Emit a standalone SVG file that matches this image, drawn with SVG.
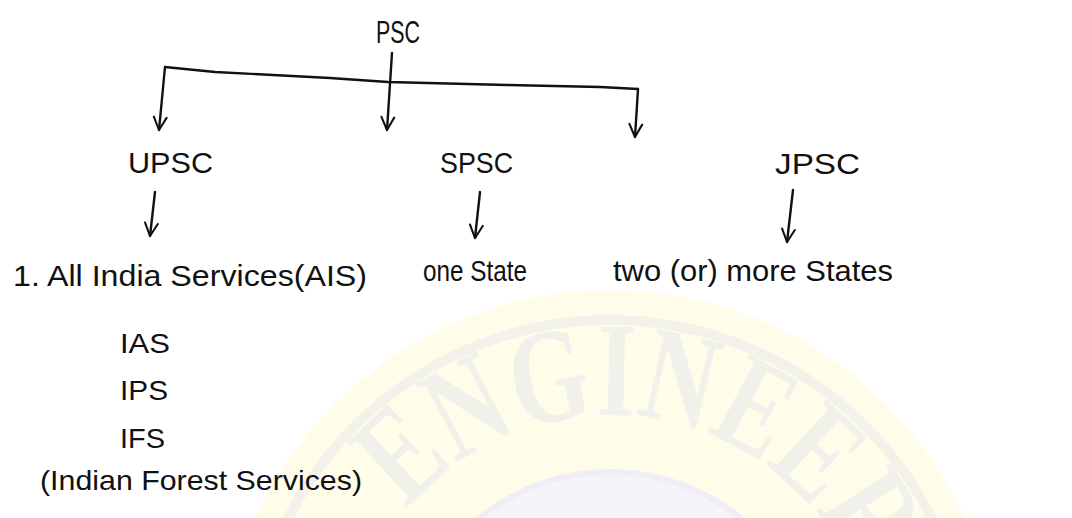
<svg xmlns="http://www.w3.org/2000/svg" width="1072" height="518" viewBox="0 0 1072 518">
<style>
.t{font-family:"Liberation Sans","DejaVu Sans",sans-serif;fill:#111;}
.c{fill:none;stroke:#111;stroke-width:2.4;stroke-linecap:round;stroke-linejoin:round;}
.wm{font-family:"Liberation Serif","DejaVu Serif",serif;font-weight:bold;}
</style>
<defs>
<marker id="v" viewBox="0 0 20 20" refX="18" refY="10" markerWidth="16" markerHeight="16" markerUnits="userSpaceOnUse" orient="auto">
<path d="M2,2 L18,10 L2,18" fill="none" stroke="#111" stroke-width="2.6" stroke-linecap="round" stroke-linejoin="round"/>
</marker>
<path id="arcOuter" d="M407,510 A265,265 0 0 1 859,771"/>
</defs>
<rect width="1072" height="518" fill="#ffffff"/>
<g id="watermark">
<circle cx="610" cy="680" r="390" fill="#fffdea"/>
<circle cx="610" cy="680" r="360" fill="none" stroke="#f2f2ea" stroke-width="10"/>
<text class="wm" font-size="135" fill="#f1f1ec"><textPath href="#arcOuter" textLength="590" lengthAdjust="spacingAndGlyphs">ENGINEERS</textPath></text>
<circle cx="610" cy="680" r="208" fill="#f5f4fa" stroke="#efeef6" stroke-width="6"/>
</g>
<g id="connectors">
<path class="c" d="M165,67 L215,72 L330,78 L388,82 L507,85 L600,87 L638,89"/>
<path class="c" d="M165,67 L159,130" marker-end="url(#v)"/>
<path class="c" d="M392,53 L387,130" marker-end="url(#v)"/>
<path class="c" d="M638,89 L635,137" marker-end="url(#v)"/>
<path class="c" d="M155,192 L150,236" marker-end="url(#v)"/>
<path class="c" d="M480,192 L475,238" marker-end="url(#v)"/>
<path class="c" d="M793,190 L787,242" marker-end="url(#v)"/>
</g>
<g id="psc"><text class="t" x="376" y="43" font-size="32" textLength="44" lengthAdjust="spacingAndGlyphs">PSC</text></g>
<g id="upsc"><text class="t" x="128" y="173" font-size="30" textLength="85" lengthAdjust="spacingAndGlyphs">UPSC</text></g>
<g id="spsc"><text class="t" x="440" y="173" font-size="30" textLength="73" lengthAdjust="spacingAndGlyphs">SPSC</text></g>
<g id="jpsc"><text class="t" x="775" y="174" font-size="30" textLength="85" lengthAdjust="spacingAndGlyphs">JPSC</text></g>
<g id="ais">
<text class="t" x="13" y="286" font-size="30" textLength="354" lengthAdjust="spacingAndGlyphs">1. All India Services(AIS)</text>
<text class="t" x="120" y="353" font-size="28" textLength="50" lengthAdjust="spacingAndGlyphs">IAS</text>
<text class="t" x="120" y="400" font-size="28" textLength="48" lengthAdjust="spacingAndGlyphs">IPS</text>
<text class="t" x="120" y="448" font-size="28" textLength="45" lengthAdjust="spacingAndGlyphs">IFS</text>
<text class="t" x="40" y="490" font-size="28" textLength="322" lengthAdjust="spacingAndGlyphs">(Indian Forest Services)</text>
</g>
<g id="one-state"><text class="t" x="423" y="281" font-size="30" textLength="104" lengthAdjust="spacingAndGlyphs">one State</text></g>
<g id="two-states"><text class="t" x="613" y="281" font-size="30" textLength="280" lengthAdjust="spacingAndGlyphs">two (or) more States</text></g>
</svg>
